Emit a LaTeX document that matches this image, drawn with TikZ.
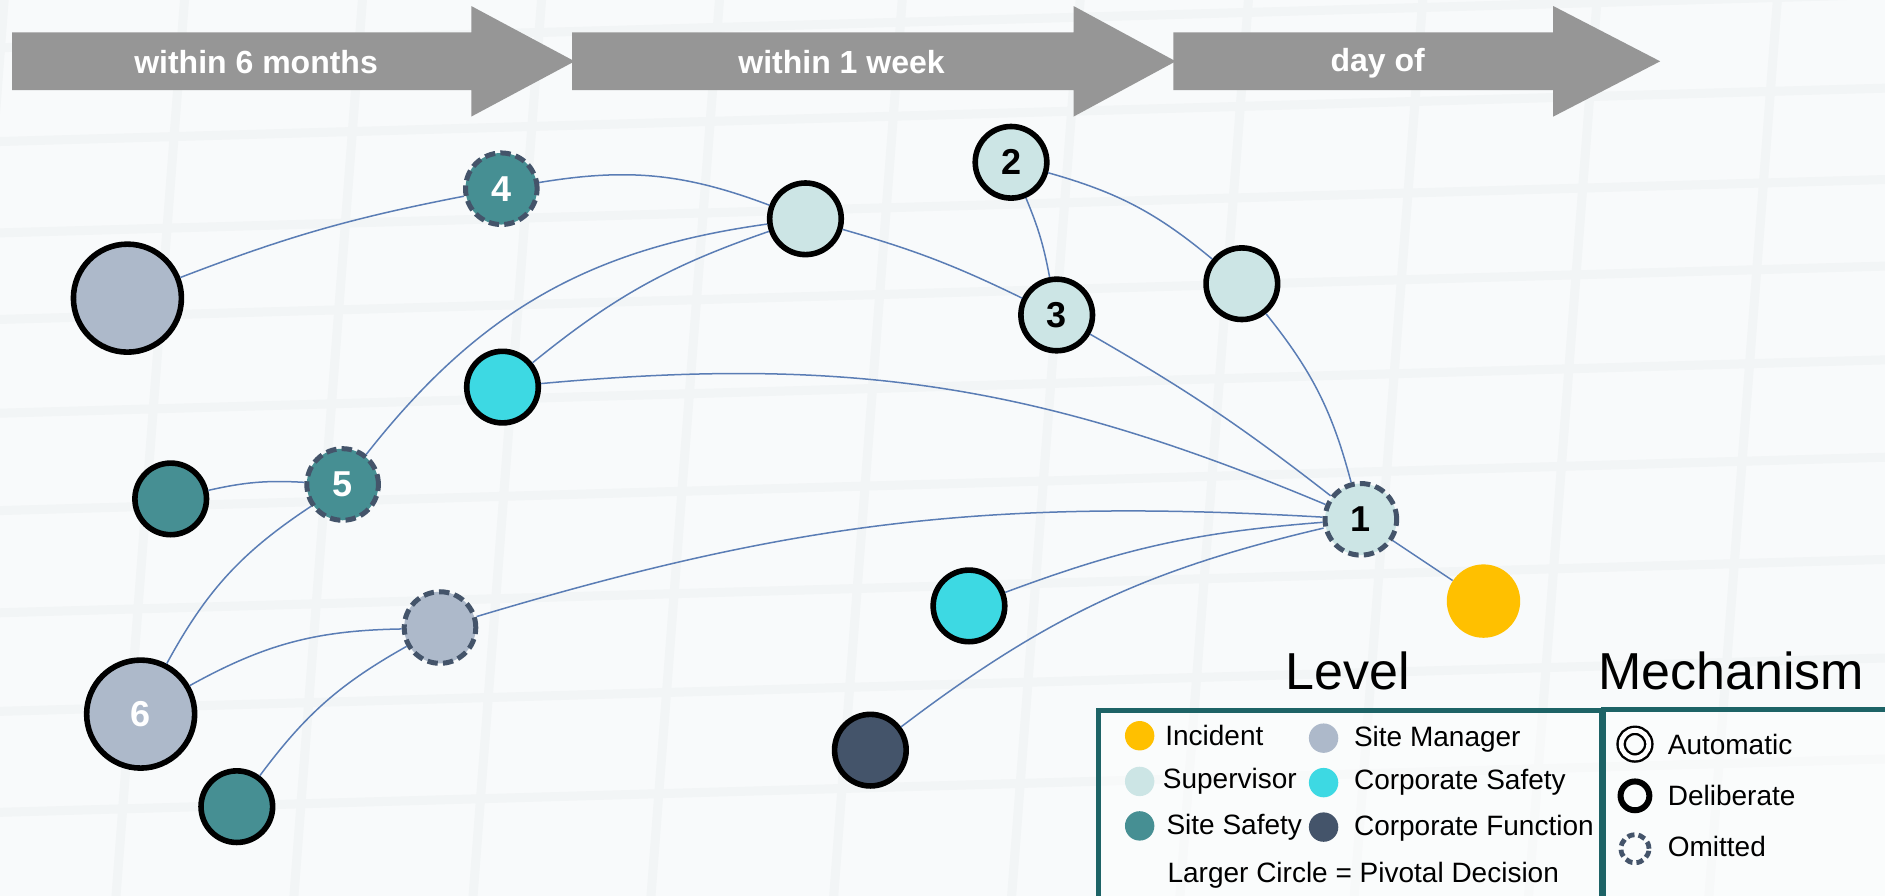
\documentclass[tikz,border=0pt]{standalone}
\usepackage{fontspec}
\setmainfont{Liberation Sans}
\definecolor{bg}{HTML}{F8FAFB}
\definecolor{gridc}{HTML}{F2F5F6}
\definecolor{arrowc}{HTML}{969696}
\definecolor{smc}{HTML}{ADB9CA}
\definecolor{supc}{HTML}{CCE5E5}
\definecolor{ssc}{HTML}{468F93}
\definecolor{csc}{HTML}{3DD9E3}
\definecolor{cfc}{HTML}{44546A}
\definecolor{incc}{HTML}{FFC000}
\definecolor{omitc}{HTML}{44546A}
\definecolor{edgec}{HTML}{5A7DB5}
\definecolor{boxc}{HTML}{1D6366}
\begin{document}
\begin{tikzpicture}[x=0.6011pt,y=0.6011pt,
  nd/.style={circle, draw=black, line width=2.8pt, minimum size=35.8pt, inner sep=0pt,
    font=\bfseries\fontsize{18}{18}\selectfont},
  big/.style={minimum size=54pt},
  om/.style={draw=omitc, line width=2.5pt, dash pattern=on 5.2pt off 2.6pt},
  edge/.style={draw=edgec, line width=0.75pt},
  atext/.style={text=white, font=\bfseries\fontsize{16}{16}\selectfont},
  ltext/.style={anchor=west, inner sep=0pt, font=\fontsize{14}{14}\selectfont},
  ttext/.style={inner sep=0pt, font=\fontsize{26}{26}\selectfont},
  ldot/.style={circle, inner sep=0pt, minimum size=14.7pt},
  gridl/.style={draw=gridc, line width=4.5pt},
  arrowshape/.style={fill=arrowc}
]
\useasboundingbox (0,0) rectangle (1568,-745);
\clip (0,0) rectangle (1568,-745);
\fill[bg] (0,0) rectangle (1568,-745);
% faint background grid
\foreach \x in {5,155,303,452,600,752,900,1040,1185,1330,1480}
  \draw[gridl] (\x,20) -- (\x-60,-765);
\foreach \y in {40,118,194,266,344,425,510,592,676}
  \draw[gridl] (-10,-\y) -- (1580,-\y+45);

% timeline arrows
\fill[arrowshape] (10,-27) -- (392,-27) -- (392,-5) -- (478,-51) -- (392,-97) -- (392,-75) -- (10,-75) -- cycle;
\fill[arrowshape] (476,-27) -- (893,-27) -- (893,-5) -- (978,-51) -- (893,-97) -- (893,-75) -- (476,-75) -- cycle;
\fill[arrowshape] (976,-27) -- (1292,-27) -- (1292,-5) -- (1381,-51) -- (1292,-97) -- (1292,-75) -- (976,-75) -- cycle;
\node[atext] (t1) at (213,-52) {within 6 months};
\node[atext] (t2) at (700,-52) {within 1 week};
\node[atext] (t3) at (1146,-53) {day of};

% nodes
\node[nd, om, fill=ssc, text=white] (n4) at (417,-157) {4};
\node[nd, big, fill=smc] (smbig) at (106,-248) {};
\node[nd, fill=supc] (suptm) at (670,-182) {};
\node[nd, fill=supc] (n2) at (841,-135) {2};
\node[nd, fill=supc] (n3) at (879,-262) {3};
\node[nd, fill=supc] (supr) at (1033,-236) {};
\node[nd, fill=csc] (cs1) at (418,-322) {};
\node[nd, fill=ssc] (ssl) at (142,-415) {};
\node[nd, om, fill=ssc, text=white] (n5) at (285,-403) {5};
\node[nd, om, fill=supc] (n1) at (1132,-432) {1};
\node[circle, fill=incc, minimum size=36.7pt, inner sep=0pt] (inc) at (1234,-500) {};
\node[nd, fill=csc] (cs2) at (806,-504) {};
\node[nd, om, fill=smc] (smd) at (366,-522) {};
\node[nd, big, fill=smc, text=white] (n6) at (117,-594) {6};
\node[nd, fill=ssc] (ssb) at (197,-671) {};
\node[nd, fill=cfc] (cf) at (724,-624) {};

% connectors
\draw[edge] (smbig) to[bend left=5] (n4);
\draw[edge] (n4) to[bend left=15] (suptm);
\draw[edge] (suptm) to[bend left=5] (n3);
\draw[edge] (n2) to[bend left=6] (n3);
\draw[edge] (n2) to[bend left=12] (supr);
\draw[edge] (supr) to[bend left=12] (n1);
\draw[edge] (n3) to[bend left=4] (n1);
\draw[edge] (cs1) to[bend left=14] (n1);
\draw[edge] (suptm) to[bend right=10] (cs1);
\draw[edge] (suptm) to[bend right=22] (n5);
\draw[edge] (ssl) to[bend left=8] (n5);
\draw[edge] (n5) to[bend right=14] (n6);
\draw[edge] (n1) to[bend right=10] (smd);
\draw[edge] (n1) to[bend right=8] (cs2);
\draw[edge] (n1) to[bend right=12] (cf);
\draw[edge] (n1) to (inc);
\draw[edge] (n6) to[bend left=14] (smd);
\draw[edge] (smd) to[bend right=12] (ssb);

% legend titles
\node[ttext] (lvl) at (1121,-558) {Level};
\node[ttext] (mech) at (1440,-558) {Mechanism};
% legend boxes
\draw[draw=boxc, line width=2.4pt, fill=white, fill opacity=0.4] (914,-591) rectangle (1332,-780);
\draw[draw=boxc, line width=2.4pt, fill=white, fill opacity=0.4] (1334,-590) rectangle (1600,-780);

% level entries
\node[ldot, fill=incc] (d1) at (948,-612) {};
\node[ltext] (l1) at (969,-612) {Incident};
\node[ldot, fill=supc] (d2) at (948,-650) {};
\node[ltext] (l2) at (967,-650) {Supervisor};
\node[ldot, fill=ssc] (d3) at (948,-687) {};
\node[ltext] (l3) at (970,-688) {Site Safety};
\node[ldot, fill=smc] (d4) at (1101,-614) {};
\node[ltext] (l4) at (1126,-615) {Site Manager};
\node[ldot, fill=csc] (d5) at (1101,-651) {};
\node[ltext] (l5) at (1126,-651) {Corporate Safety};
\node[ldot, fill=cfc] (d6) at (1101,-688) {};
\node[ltext] (l6) at (1126,-689) {Corporate Function};
\node[inner sep=0pt, font=\fontsize{14}{14}\selectfont] (l7) at (1134,-728) {Larger Circle = Pivotal Decision};

% mechanism entries
\node[circle, draw=black, line width=1.2pt, double=white, double distance=2.4pt, minimum size=13.8pt, inner sep=0pt] (m1) at (1360,-619) {};
\node[ltext] (mt1) at (1387,-619) {Automatic};
\node[circle, draw=black, line width=3pt, minimum size=14.4pt, inner sep=0pt] (m2) at (1360,-662) {};
\node[ltext] (mt2) at (1387,-662) {Deliberate};
\node[circle, draw=omitc, line width=2.4pt, dash pattern=on 3.6pt off 2pt, minimum size=14pt, inner sep=0pt] (m3) at (1360,-706) {};
\node[ltext] (mt3) at (1387,-704) {Omitted};
\end{tikzpicture}
\end{document}
